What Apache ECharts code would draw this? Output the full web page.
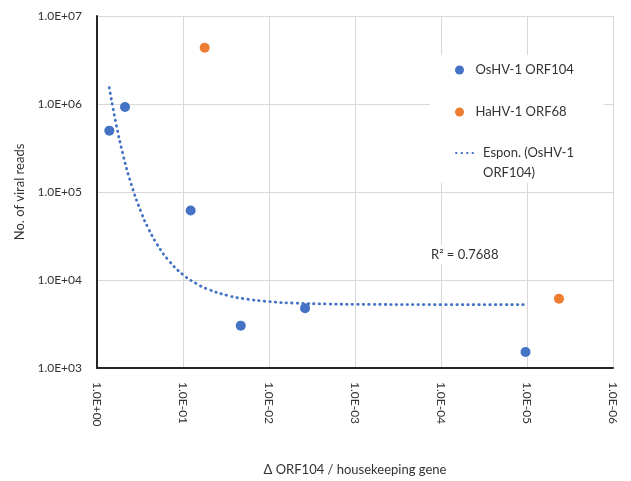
<!DOCTYPE html>
<html lang="en">
<head>
<meta charset="UTF-8">
<title>Viral reads vs ORF104</title>
<script src="https://cdn.jsdelivr.net/npm/echarts@6/dist/echarts.min.js"></script>
<style>
	html,body{margin:0;padding:0;width:100%;height:100%;background:#fff;}
	#chart{width:631px;height:481px;}
</style>
</head>
<body>
<div id="chart"></div>
<script>
	// values
	var osX = [0.719, 0.4725, 0.0814, 0.0213, 0.00381, 0.0000104];
	var osY = [4.98e5, 9.24e5, 6.15e4, 3.03e3, 4.79e3, 1.52e3];
	var haX = [0.056, 0.00000425];
	var haY = [4.35e6, 6.14e3];
	// exponential trendline, sampled along the dotted curve
	var trendX = [0.72, 0.6, 0.5, 0.4, 0.3, 0.25, 0.2, 0.15, 0.1, 0.07, 0.05, 0.03, 0.02, 0.01, 0.005, 0.002, 0.001, 0.0001, 0.00001];
	var trendY = [1.53e6, 5.94e5, 2.70e5, 1.23e5, 5.58e4, 3.77e4, 2.54e4, 1.71e4, 1.15e4, 9.11e3, 7.78e3, 6.65e3, 6.15e3, 5.68e3, 5.46e3, 5.33e3, 5.29e3, 5.25e3, 5.25e3];
	var xTickLabels = ['1.0E+00', '1.0E-01', '1.0E-02', '1.0E-03', '1.0E-04', '1.0E-05', '1.0E-06'];
	var yTickLabels = ['1.0E+03', '1.0E+04', '1.0E+05', '1.0E+06', '1.0E+07'];
	var seriesNames = ['OsHV-1 ORF104', 'HaHV-1 ORF68', 'Espon. (OsHV-1 ORF104)'];
	var r2Text = 'R\u00b2 = 0.7688';

	var BLUE = '#4472C4', ORANGE = '#ED7D31', TXT = '#333', FONT = 'Lato';

	function pairs(xs, ys) {
		var out = [];
		for (var i = 0; i < xs.length; i++) out.push([xs[i], ys[i]]);
		return out;
	}

	var myChart = echarts.init(document.getElementById('chart'));
	var options = {
		animation: false,
		textStyle: {fontFamily: FONT},
		grid: {left: 97, right: 18, top: 16, bottom: 108},
		title: {
			text: r2Text,
			left: 428, top: 245,
			padding: [3, 3],
			backgroundColor: '#fff',
			textStyle: {fontFamily: FONT, fontSize: 13, fontWeight: 'normal', color: TXT}
		},
		legend: [{
			data: [seriesNames[0], seriesNames[1]],
			orient: 'vertical',
			left: 430, top: 55,
			padding: [8, 30, 64, 25],
			backgroundColor: '#fff',
			itemWidth: 22, itemHeight: 9, itemGap: 28,
			textStyle: {fontFamily: FONT, fontSize: 13, color: TXT, lineHeight: 14}
		}, {
			data: [seriesNames[2]],
			orient: 'vertical',
			left: 455, top: 123,
			padding: 0,
			z: 5,
			itemWidth: 22, itemHeight: 9,
			// hide the marker that ECharts puts in a line series' legend icon
			itemStyle: {color: 'rgba(0,0,0,0)', borderWidth: 0, opacity: 0},
			formatter: function() { return '\nEspon. (OsHV-1\nORF104)'; },
			textStyle: {fontFamily: FONT, fontSize: 13, color: TXT, lineHeight: 20}
		}],
		xAxis: {
			type: 'log', logBase: 10,
			min: 0.000001, max: 1, interval: 1,
			inverse: true,
			name: 'Δ ORF104 / housekeeping gene',
			nameLocation: 'middle', nameGap: 95,
			nameTextStyle: {fontFamily: FONT, fontSize: 13, color: TXT},
			axisLine: {show: true, onZero: false, lineStyle: {color: '#262626', width: 2}},
			axisTick: {show: false},
			axisLabel: {
				rotate: -90, margin: 14,
				fontFamily: FONT, fontSize: 12, color: TXT,
				formatter: function(v) { return xTickLabels[Math.round(-Math.log10(v))]; }
			},
			splitLine: {show: true, lineStyle: {color: '#D9D9D9', width: 1}}
		},
		yAxis: {
			type: 'log', logBase: 10,
			min: 1000, max: 10000000, interval: 1,
			name: 'No. of viral reads',
			nameLocation: 'middle', nameGap: 68,
			nameTextStyle: {fontFamily: FONT, fontSize: 13, color: TXT},
			axisLine: {show: true, onZero: false, lineStyle: {color: '#262626', width: 2}},
			axisTick: {show: false},
			axisLabel: {
				margin: 15,
				fontFamily: FONT, fontSize: 12, color: TXT,
				formatter: function(v) { return yTickLabels[Math.round(Math.log10(v)) - 3]; }
			},
			splitLine: {show: true, lineStyle: {color: '#D9D9D9', width: 1}}
		},
		series: [{
			name: seriesNames[0],
			type: 'scatter',
			symbol: 'circle', symbolSize: 10,
			itemStyle: {color: BLUE, opacity: 1},
			z: 3,
			data: pairs(osX, osY)
		}, {
			name: seriesNames[1],
			type: 'scatter',
			symbol: 'circle', symbolSize: 10,
			itemStyle: {color: ORANGE, opacity: 1},
			z: 3,
			data: pairs(haX, haY)
		}, {
			name: seriesNames[2],
			type: 'line',
			smooth: true,
			symbol: 'none', showSymbol: false,
			itemStyle: {color: BLUE},
			lineStyle: {color: BLUE, width: 2.8, type: [0.5, 5], cap: 'round'},
			z: 2,
			data: pairs(trendX, trendY)
		}]
	};
	myChart.setOption(options);
</script>
</body>
</html>
